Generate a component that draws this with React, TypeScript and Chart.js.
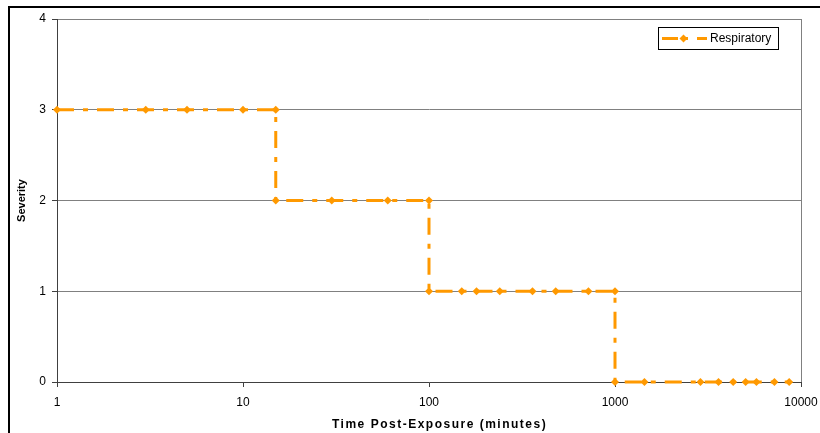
import React, { useEffect, useRef } from "react";
import { Chart, registerables } from "chart.js";

Chart.register(...registerables);

// Time post-exposure (minutes) and severity
const timeMinutes = [
  1, 3, 5, 10, 15,
  15, 30, 60, 100,
  100, 150, 180, 240, 360, 480, 720, 1000,
  1000, 1440, 2880, 3600, 4320, 5040, 5760, 7200, 8640,
];
const severity = [
  3, 3, 3, 3, 3,
  2, 2, 2, 2,
  1, 1, 1, 1, 1, 1, 1, 1,
  0, 0, 0, 0, 0, 0, 0, 0, 0,
];
const xTickValues = [1, 10, 100, 1000, 10000];
const seriesName = "Respiratory";
const xTitle = "Time Post-Exposure (minutes)";
const yTitle = "Severity";

const ORANGE = "#FF9900";
const FONT = "Arial, 'Liberation Sans', sans-serif";

const framePlugin = {
  id: "frame",
  beforeDraw(chart: any) {
    const ctx = chart.ctx;
    ctx.save();
    ctx.fillStyle = "#ffffff";
    ctx.fillRect(0, 0, chart.width, chart.height);
    ctx.fillStyle = "#000000";
    ctx.fillRect(8, 6, chart.width - 8, 2);
    ctx.fillRect(8, 6, 2, chart.height - 6);
    ctx.restore();
  },
  afterDraw(chart: any) {
    const ctx = chart.ctx;
    const a = chart.chartArea;
    ctx.save();
    // right plot border
    ctx.strokeStyle = "#808080";
    ctx.lineWidth = 1;
    ctx.beginPath();
    ctx.moveTo(Math.round(a.right) + 0.5, a.top);
    ctx.lineTo(Math.round(a.right) + 0.5, a.bottom);
    ctx.stroke();

    // legend
    const lx = 658, ly = 27, lw = 120, lh = 22;
    ctx.fillStyle = "#ffffff";
    ctx.fillRect(lx, ly, lw, lh);
    ctx.strokeStyle = "#000000";
    ctx.lineWidth = 1;
    ctx.strokeRect(lx + 0.5, ly + 0.5, lw, lh);
    const cy = ly + lh / 2 + 0.5;
    ctx.strokeStyle = ORANGE;
    ctx.lineWidth = 3;
    ctx.setLineDash([16, 5, 5, 9]);
    ctx.beginPath();
    ctx.moveTo(662, cy);
    ctx.lineTo(707, cy);
    ctx.stroke();
    ctx.setLineDash([]);
    ctx.fillStyle = ORANGE;
    ctx.beginPath();
    ctx.moveTo(683.5, cy - 4);
    ctx.lineTo(687.5, cy);
    ctx.lineTo(683.5, cy + 4);
    ctx.lineTo(679.5, cy);
    ctx.closePath();
    ctx.fill();
    ctx.fillStyle = "#000000";
    ctx.font = "12px " + FONT;
    ctx.textBaseline = "middle";
    ctx.textAlign = "left";
    ctx.fillText(seriesName, 710, cy);
    ctx.restore();
  },
};

export default function App() {
  const canvasRef = useRef<HTMLCanvasElement | null>(null);

  useEffect(() => {
    if (!canvasRef.current) return;
    const chart = new Chart(canvasRef.current, {
      type: "line",
      data: {
        datasets: [
          {
            label: seriesName,
            data: timeMinutes.map((t, i) => ({ x: t, y: severity[i] })),
            borderColor: ORANGE,
            backgroundColor: ORANGE,
            borderWidth: 3,
            borderDash: [17, 9, 5, 9],
            borderCapStyle: "butt",
            tension: 0,
            pointStyle: "rectRot",
            pointRadius: 4,
            pointBorderWidth: 0,
            pointBackgroundColor: ORANGE,
            clip: 5,
          },
        ],
      },
      options: {
        animation: false,
        responsive: false,
        devicePixelRatio: 1,
        events: [],
        layout: { padding: { top: 19, right: 19, left: 0, bottom: 0 } },
        plugins: {
          legend: { display: false },
          tooltip: { enabled: false },
        },
        scales: {
          x: {
            type: "logarithmic",
            min: 1,
            max: 10000,
            afterBuildTicks: (scale: any) => {
              scale.ticks = xTickValues.map((v) => ({ value: v }));
            },
            afterFit: (scale: any) => {
              scale.height = 51;
              scale.paddingLeft = 0;
              scale.paddingRight = 0;
            },
            border: { color: "#404040", width: 1 },
            grid: {
              drawOnChartArea: false,
              drawTicks: true,
              tickLength: 5,
              tickColor: "#404040",
            },
            ticks: {
              color: "#000000",
              font: { family: FONT, size: 12 },
              padding: 8,
              maxRotation: 0,
              autoSkip: false,
              callback: (v: any) => String(v),
            },
            title: { display: false },
          },
          y: {
            min: 0,
            max: 4,
            afterFit: (scale: any) => {
              scale.width = 57;
              scale.paddingTop = 0;
              scale.paddingBottom = 0;
            },
            border: { color: "#404040", width: 1 },
            grid: {
              color: "#808080",
              drawTicks: true,
              tickLength: 5,
              tickColor: "#404040",
            },
            ticks: {
              stepSize: 1,
              color: "#000000",
              font: { family: FONT, size: 12 },
              padding: 6,
            },
            title: {
              display: true,
              text: yTitle,
              color: "#000000",
              font: { family: FONT, size: 11, weight: "bold" },
              padding: { top: 15, bottom: 0 },
            },
          },
        },
      },
      plugins: [framePlugin],
    });
    return () => chart.destroy();
  }, []);

  return (
    <div style={{ position: "fixed", left: 0, top: 0, width: 820, height: 433, background: "#fff" }}>
      <canvas ref={canvasRef} width={820} height={433} style={{ width: 820, height: 433, display: "block" }} />
      <div
        style={{
          position: "absolute",
          left: 332,
          top: 417,
          fontFamily: FONT,
          fontWeight: "bold",
          fontSize: 12,
          lineHeight: "14px",
          letterSpacing: "1.5px",
          whiteSpace: "nowrap",
          color: "#000",
        }}
      >
        {xTitle}
      </div>
    </div>
  );
}
